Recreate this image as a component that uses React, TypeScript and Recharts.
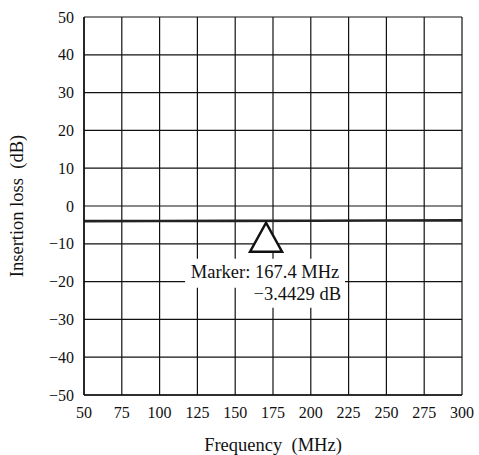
import {
  LineChart,
  Line,
  XAxis,
  YAxis,
  CartesianGrid,
  ReferenceDot,
  Label,
} from "recharts";

const freqs = [50, 100, 150, 200, 250, 300];
const loss = [-4.0, -3.97, -3.93, -3.9, -3.85, -3.8];
const xTicks = [50, 75, 100, 125, 150, 175, 200, 225, 250, 275, 300];
const yTicks = [-50, -40, -30, -20, -10, 0, 10, 20, 30, 40, 50];

const markerFreq = 170.4;
const markerLoss = -3.9;
const markerLine1 = "Marker: 167.4 MHz";
const markerLine2 = "\u22123.4429 dB";

const data = freqs.map((f, i) => ({ f, v: loss[i] }));

const FONT = "'Liberation Serif', 'Times New Roman', serif";
const INK = "#111";

const minus = (v: number) => String(v).replace("-", "\u2212");

const MarkerShape = (props: { cx?: number; cy?: number }) => {
  const { cx = 0, cy = 0 } = props;
  const top = cy + 2;
  return (
    <g>
      <polygon
        points={`${cx},${top} ${cx - 16},${top + 29} ${cx + 16},${top + 29}`}
        fill="#fff"
        stroke={INK}
        strokeWidth={2.5}
        strokeLinejoin="miter"
      />
      <rect x={cx - 81} y={top + 36} width={160} height={29} fill="#fff" />
      <rect x={cx - 16} y={top + 64} width={95} height={21} fill="#fff" />
      <text
        x={cx - 1}
        y={top + 55}
        textAnchor="middle"
        fontFamily={FONT}
        fontSize={18.5}
        fill={INK}
      >
        {markerLine1}
      </text>
      <text
        x={cx + 75}
        y={top + 77}
        textAnchor="end"
        fontFamily={FONT}
        fontSize={18.5}
        fill={INK}
      >
        {markerLine2}
      </text>
    </g>
  );
};

export default function App() {
  return (
    <div style={{ position: "absolute", left: 0, top: 0, background: "#fff" }}>
      <LineChart
        width={479}
        height={455}
        data={data}
        margin={{ top: 17, right: 17, left: 0, bottom: 0 }}
      >
        <CartesianGrid stroke={INK} strokeWidth={1.2} />
        <XAxis
          dataKey="f"
          type="number"
          domain={[50, 300]}
          ticks={xTicks}
          interval={0}
          height={60}
          tickLine={false}
          axisLine={{ stroke: INK, strokeWidth: 1.5 }}
          tick={{ fill: INK, fontSize: 16, fontFamily: FONT }}
          tickMargin={6}
        >
          <Label
            value={"Frequency\u00a0\u00a0(MHz)"}
            position="insideBottom"
            offset={4}
            style={{ fill: INK, fontSize: 18.5, fontFamily: FONT }}
          />
        </XAxis>
        <YAxis
          type="number"
          domain={[-50, 50]}
          ticks={yTicks}
          interval={0}
          width={84}
          tickLine={false}
          axisLine={{ stroke: INK, strokeWidth: 1.5 }}
          tick={{ fill: INK, fontSize: 16, fontFamily: FONT }}
          tickFormatter={minus}
          tickMargin={4}
        >
          <Label
            value={"Insertion loss\u00a0\u00a0(dB)"}
            angle={-90}
            position="insideLeft"
            offset={16}
            style={{
              fill: INK,
              fontSize: 18.5,
              fontFamily: FONT,
              textAnchor: "middle",
            }}
          />
        </YAxis>
        <Line
          dataKey="v"
          type="linear"
          stroke="#222"
          strokeWidth={2.6}
          dot={false}
          isAnimationActive={false}
        />
        <ReferenceDot
          x={markerFreq}
          y={markerLoss}
          shape={<MarkerShape />}
          ifOverflow="visible"
        />
      </LineChart>
    </div>
  );
}
